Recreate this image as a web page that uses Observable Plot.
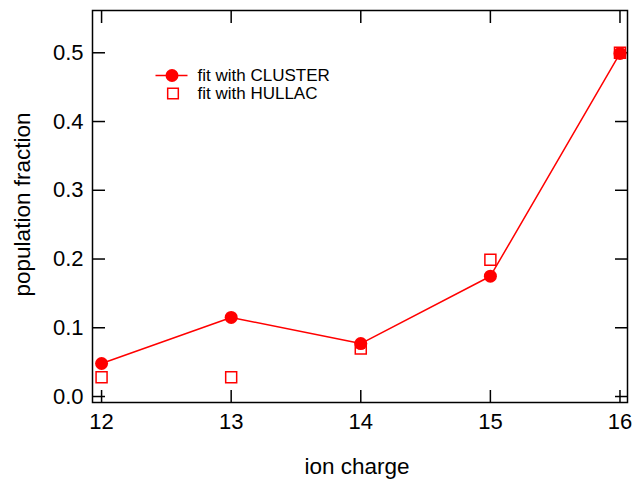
<!DOCTYPE html>
<html>
<head>
<meta charset="utf-8">
<script src="https://cdn.jsdelivr.net/npm/d3@7"></script>
<script src="https://cdn.jsdelivr.net/npm/@observablehq/plot@0.6"></script>
<style>
  html, body { margin: 0; padding: 0; background: #fff; }
  #chart svg { display: block; }
</style>
</head>
<body>
<div id="chart"></div>
<script>
const charges = [12, 13, 14, 15, 16];
const cluster = [0.048, 0.115, 0.077, 0.175, 0.499];
const hullac  = [0.028, 0.028, 0.070, 0.199, 0.500];
const xTicks = [12, 13, 14, 15, 16];
const yTicks = [0, 0.1, 0.2, 0.3, 0.4, 0.5];
const legendLabels = ["fit with CLUSTER", "fit with HULLAC"];
const xTitle = "ion charge";
const yTitle = "population fraction";

const clusterData = charges.map((c, i) => ({x: c, y: cluster[i]}));
const hullacData = charges.map((c, i) => ({x: c, y: hullac[i]}));
const red = "#ff0000";
const font = "Liberation Sans, Arial, sans-serif";

// horizontal line symbol for the legend key
const hline = {draw(ctx) { ctx.moveTo(-16, 0); ctx.lineTo(16, 0); }};

const chart = Plot.plot({
  width: 632,
  height: 479,
  marginLeft: 92,
  marginRight: 5,
  marginTop: 10,
  marginBottom: 77,
  style: {fontFamily: font, fontSize: "22px", background: "#fff", color: "#000"},
  x: {domain: [11.93, 16.058]},
  y: {domain: [-0.0087, 0.5615]},
  marks: [
    Plot.frame({stroke: "#000", strokeWidth: 1.5}),
    // inward ticks on all four sides
    Plot.axisX(xTicks, {anchor: "bottom", tickSize: -12, strokeWidth: 1.5, tickFormat: () => "", label: null}),
    Plot.axisX(xTicks, {anchor: "top", tickSize: -12, strokeWidth: 1.5, tickFormat: () => "", label: null}),
    Plot.axisY(yTicks, {anchor: "left", tickSize: -13, strokeWidth: 1.5, tickFormat: () => "", label: null}),
    Plot.axisY(yTicks, {anchor: "right", tickSize: -13, strokeWidth: 1.5, tickFormat: () => "", label: null}),
    // tick labels
    Plot.axisX(xTicks, {anchor: "bottom", tickSize: 0, tickPadding: 11, fontSize: 22, label: null, tickFormat: d => String(d)}),
    Plot.axisY(yTicks, {anchor: "left", tickSize: 0, tickPadding: 9, fontSize: 22, label: null, tickFormat: d3.format(".1f")}),
    // axis titles
    Plot.text([xTitle], {frameAnchor: "bottom", dx: -3, dy: 64, text: d => d, fontSize: 22.5, lineAnchor: "middle"}),
    Plot.text([yTitle], {frameAnchor: "left", dx: -70, dy: -2, rotate: -90, text: d => d, fontSize: 22.5, lineAnchor: "middle", textAnchor: "middle"}),
    // data
    Plot.dot(hullacData, {x: "x", y: "y", symbol: "square", r: 6.2, stroke: red, strokeWidth: 1.5, fill: "none"}),
    Plot.line(clusterData, {x: "x", y: "y", stroke: red, strokeWidth: 1.5}),
    Plot.dot(clusterData, {x: "x", y: "y", symbol: "circle", r: 6.5, fill: red, stroke: "none"}),
    // legend
    Plot.dot([legendLabels[0]], {frameAnchor: "top-left", dx: 79, dy: 65, symbol: hline, stroke: red, strokeWidth: 1.5, fill: "none"}),
    Plot.dot([legendLabels[0]], {frameAnchor: "top-left", dx: 79.5, dy: 65, symbol: "circle", r: 6.5, fill: red, stroke: "none"}),
    Plot.dot([legendLabels[1]], {frameAnchor: "top-left", dx: 80.5, dy: 83, symbol: "square", r: 6, stroke: red, strokeWidth: 1.5, fill: "none"}),
    Plot.text(legendLabels, {frameAnchor: "top-left", dx: 105, dy: 65, text: d => d, fontSize: 17, textAnchor: "start", lineAnchor: "middle", filter: (d, i) => i === 0}),
    Plot.text(legendLabels, {frameAnchor: "top-left", dx: 105, dy: 83, text: d => d, fontSize: 17, textAnchor: "start", lineAnchor: "middle", filter: (d, i) => i === 1}),
  ]
});
document.getElementById("chart").appendChild(chart);
</script>
</body>
</html>
